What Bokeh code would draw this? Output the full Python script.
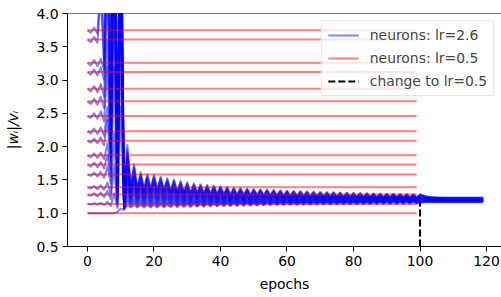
from bokeh.plotting import figure
from bokeh.models import Legend, LegendItem, FixedTicker, PrintfTickFormatter, Span
from bokeh.embed import file_html
from bokeh.resources import INLINE

# ---- data ----
x_ticks = [0, 20, 40, 60, 80, 100, 120]
y_ticks = [0.5, 1.0, 1.5, 2.0, 2.5, 3.0, 3.5, 4.0]

# lr=0.5 runs: ratio stays at its initial level (epochs 0..99)
red_levels = [3.75, 3.61, 3.26, 3.12, 2.87, 2.68, 2.46, 2.23,
              2.09, 1.87, 1.73, 1.58, 1.39, 1.28, 1.14, 1.00]
red_epochs = [0, 99]

# lr=2.6 runs, epochs 0..11 (zig-zag, then blow-up)
blue_early = [
    [3.75, 3.71, 3.79, 3.70, 4.6, 3.3, 7.0, 2.6, 9.0, 1.8, 6.0, 1.2],
    [3.61, 3.57, 3.65, 3.56, 4.3, 3.2, 6.5, 2.5, 8.5, 1.7, 5.5, 1.18],
    [3.26, 3.22, 3.30, 3.21, 3.32, 3.15, 5.0, 2.4, 8.0, 1.6, 6.5, 1.15],
    [3.12, 3.08, 3.16, 3.07, 3.19, 3.0, 4.8, 2.3, 7.5, 1.5, 6.0, 1.14],
    [2.87, 2.83, 2.91, 2.82, 2.94, 2.75, 4.4, 2.1, 7.0, 1.45, 6.0, 1.13],
    [2.68, 2.64, 2.72, 2.63, 2.75, 2.58, 3.6, 2.0, 6.5, 1.4, 5.5, 1.12],
    [2.46, 2.43, 2.50, 2.42, 2.53, 2.38, 3.2, 1.9, 6.0, 1.35, 5.5, 1.12],
    [2.23, 2.20, 2.27, 2.19, 2.29, 2.16, 2.6, 1.85, 5.5, 1.3, 5.0, 1.11],
    [2.09, 2.06, 2.12, 2.05, 2.14, 2.02, 2.4, 1.8, 5.0, 1.28, 5.0, 1.1],
    [1.87, 1.84, 1.90, 1.83, 1.91, 1.81, 2.05, 1.65, 4.5, 1.25, 4.5, 1.1],
    [1.73, 1.70, 1.76, 1.69, 1.77, 1.67, 1.88, 1.55, 4.2, 1.22, 4.8, 1.1],
    [1.58, 1.56, 1.61, 1.55, 1.62, 1.53, 1.7, 1.45, 3.2, 1.2, 4.5, 1.09],
    [1.39, 1.37, 1.41, 1.36, 1.42, 1.35, 1.46, 1.3, 2.2, 1.15, 4.2, 1.08],
    [1.28, 1.26, 1.30, 1.25, 1.31, 1.24, 1.34, 1.21, 1.7, 1.12, 3.5, 1.07],
    [1.14, 1.13, 1.15, 1.13, 1.155, 1.125, 1.17, 1.11, 1.3, 1.08, 2.6, 1.06],
    [1.0, 1.0, 1.0, 1.0, 1.0, 1.0, 1.0, 1.0, 1.005, 1.02, 1.07, 1.05],
]

# lr=2.6 runs, epochs 12..119: upper and lower edge neurons of the band
band_top = [
    2.025, 1.40, 1.735, 1.375, 1.615, 1.36, 1.585, 1.37,                 # 12-19
    1.575, 1.36, 1.55, 1.35, 1.525, 1.335, 1.505, 1.325, 1.485, 1.315,   # 20-29
    1.465, 1.307, 1.45, 1.302, 1.435, 1.295, 1.425, 1.29, 1.415, 1.29,   # 30-39
    1.405, 1.285, 1.395, 1.28, 1.385, 1.276, 1.378, 1.274, 1.371, 1.273, # 40-49
    1.365, 1.272, 1.36, 1.27, 1.355, 1.268, 1.35, 1.266, 1.345, 1.262,   # 50-59
    1.34, 1.26, 1.336, 1.258, 1.332, 1.256, 1.328, 1.254, 1.325, 1.253,  # 60-69
    1.322, 1.252, 1.319, 1.251, 1.316, 1.25, 1.313, 1.249, 1.31, 1.248,  # 70-79
    1.307, 1.247, 1.304, 1.246, 1.301, 1.244, 1.298, 1.242, 1.296, 1.241,  # 80-89
    1.294, 1.24, 1.292, 1.239, 1.29, 1.238, 1.288, 1.237, 1.286, 1.236,  # 90-99
    1.285, 1.268, 1.255, 1.246, 1.241, 1.238, 1.236,                     # 100-106
    1.235, 1.235, 1.235, 1.235, 1.235, 1.235, 1.235, 1.235, 1.235, 1.235,
    1.235, 1.235, 1.235,                                                 # 107-119
]
band_bottom = [
    1.12, 1.085, 1.125, 1.085, 1.125, 1.085, 1.125, 1.085,               # 12-19
    1.125, 1.085, 1.126, 1.087, 1.128, 1.089, 1.13, 1.091, 1.131, 1.093, # 20-29
    1.133, 1.095, 1.135, 1.097, 1.136, 1.099, 1.138, 1.101, 1.139, 1.103,  # 30-39
    1.141, 1.105, 1.142, 1.107, 1.144, 1.109, 1.145, 1.111, 1.147, 1.113,  # 40-49
    1.148, 1.115, 1.15, 1.117, 1.151, 1.119, 1.153, 1.121, 1.154, 1.123, # 50-59
    1.156, 1.125, 1.157, 1.126, 1.158, 1.127, 1.159, 1.128, 1.16, 1.129, # 60-69
    1.161, 1.13, 1.162, 1.131, 1.163, 1.132, 1.164, 1.133, 1.165, 1.134, # 70-79
    1.166, 1.135, 1.167, 1.136, 1.168, 1.137, 1.169, 1.138, 1.17, 1.139, # 80-89
    1.171, 1.14, 1.172, 1.141, 1.173, 1.142, 1.174, 1.143, 1.175, 1.145, # 90-99
    1.16, 1.162, 1.164, 1.165, 1.165, 1.165, 1.165,                      # 100-106
    1.165, 1.165, 1.165, 1.165, 1.165, 1.165, 1.165, 1.165, 1.165, 1.165,
    1.165, 1.165, 1.165,                                                 # 107-119
]
# where each neuron sits inside the band (0 = lower edge, 1 = upper edge)
blue_band_pos = [1.0, 0.93, 0.87, 0.8, 0.73, 0.67, 0.6, 0.53,
                 0.47, 0.4, 0.33, 0.27, 0.2, 0.13, 0.07, 0.0]
blue_epochs = list(range(120))

change_epoch = [100, 100]
change_y = [0.5, 1.165]

# ---- build series ----
blue_xs, blue_ys = [], []
for early, q in zip(blue_early, blue_band_pos):
    tail = [lo + q * (hi - lo) for hi, lo in zip(band_top, band_bottom)]
    blue_ys.append(early + tail)
    blue_xs.append(blue_epochs)

red_xs = [red_epochs for _ in red_levels]
red_ys = [[lv, lv] for lv in red_levels]

FONT = "DejaVu Sans"
FS = "13.9px"

p = figure(width=501, height=297, x_range=(-6.0, 124.5), y_range=(0.5, 4.0),
           output_backend="svg", toolbar_location=None,
           min_border_left=67, min_border_right=0, min_border_top=13,
           min_border_bottom=51)
p.outline_line_color = None
p.xgrid.visible = False
p.ygrid.visible = False
p.background_fill_color = "white"

r_blue = p.multi_line(blue_xs, blue_ys, line_color="blue", line_alpha=0.5,
                      line_width=2, line_join="round")
r_red = p.multi_line(red_xs, red_ys, line_color="red", line_alpha=0.5,
                     line_width=2)
r_dash = p.line(change_epoch, change_y, line_color="black", line_width=2,
                line_dash="7 3")

p.add_layout(Span(location=4.0, dimension="width", line_color="black",
                  line_width=1))

for ax in (p.xaxis[0], p.yaxis[0]):
    ax.axis_line_color = "black"
    ax.axis_line_width = 1
    ax.major_tick_line_color = "black"
    ax.major_tick_line_width = 1
    ax.major_tick_out = 5
    ax.major_tick_in = 0
    ax.minor_tick_line_color = None
    ax.major_label_text_font = FONT
    ax.major_label_text_font_size = FS
    ax.major_label_text_color = "black"
    ax.axis_label_text_font = FONT
    ax.axis_label_text_font_size = FS
    ax.axis_label_text_color = "black"

p.xaxis.ticker = FixedTicker(ticks=x_ticks)
p.yaxis.ticker = FixedTicker(ticks=y_ticks)
p.yaxis.formatter = PrintfTickFormatter(format="%.1f")
p.xaxis.major_label_standoff = 4
p.yaxis.major_label_standoff = 4
p.xaxis.axis_label = "epochs"
p.xaxis.axis_label_text_font_style = "normal"
p.xaxis.axis_label_standoff = 7
p.yaxis.axis_label = "|wᵢ|/vᵢ"
p.yaxis.axis_label_text_font_style = "italic"
p.yaxis.axis_label_standoff = 12

legend = Legend(items=[
    LegendItem(label="neurons: lr=2.6", renderers=[r_blue]),
    LegendItem(label="neurons: lr=0.5", renderers=[r_red]),
    LegendItem(label="change to lr=0.5", renderers=[r_dash]),
], location="top_right")
legend.label_text_font = FONT
legend.label_text_font_size = FS
legend.glyph_width = 31
legend.glyph_height = 14
legend.label_height = 14
legend.label_standoff = 11
legend.spacing = 7
legend.padding = 6
legend.margin = 7
legend.border_line_color = "#cccccc"
legend.border_line_width = 1
legend.background_fill_alpha = 0.8
p.add_layout(legend)

open("out.html", "w").write(file_html(p, INLINE))
